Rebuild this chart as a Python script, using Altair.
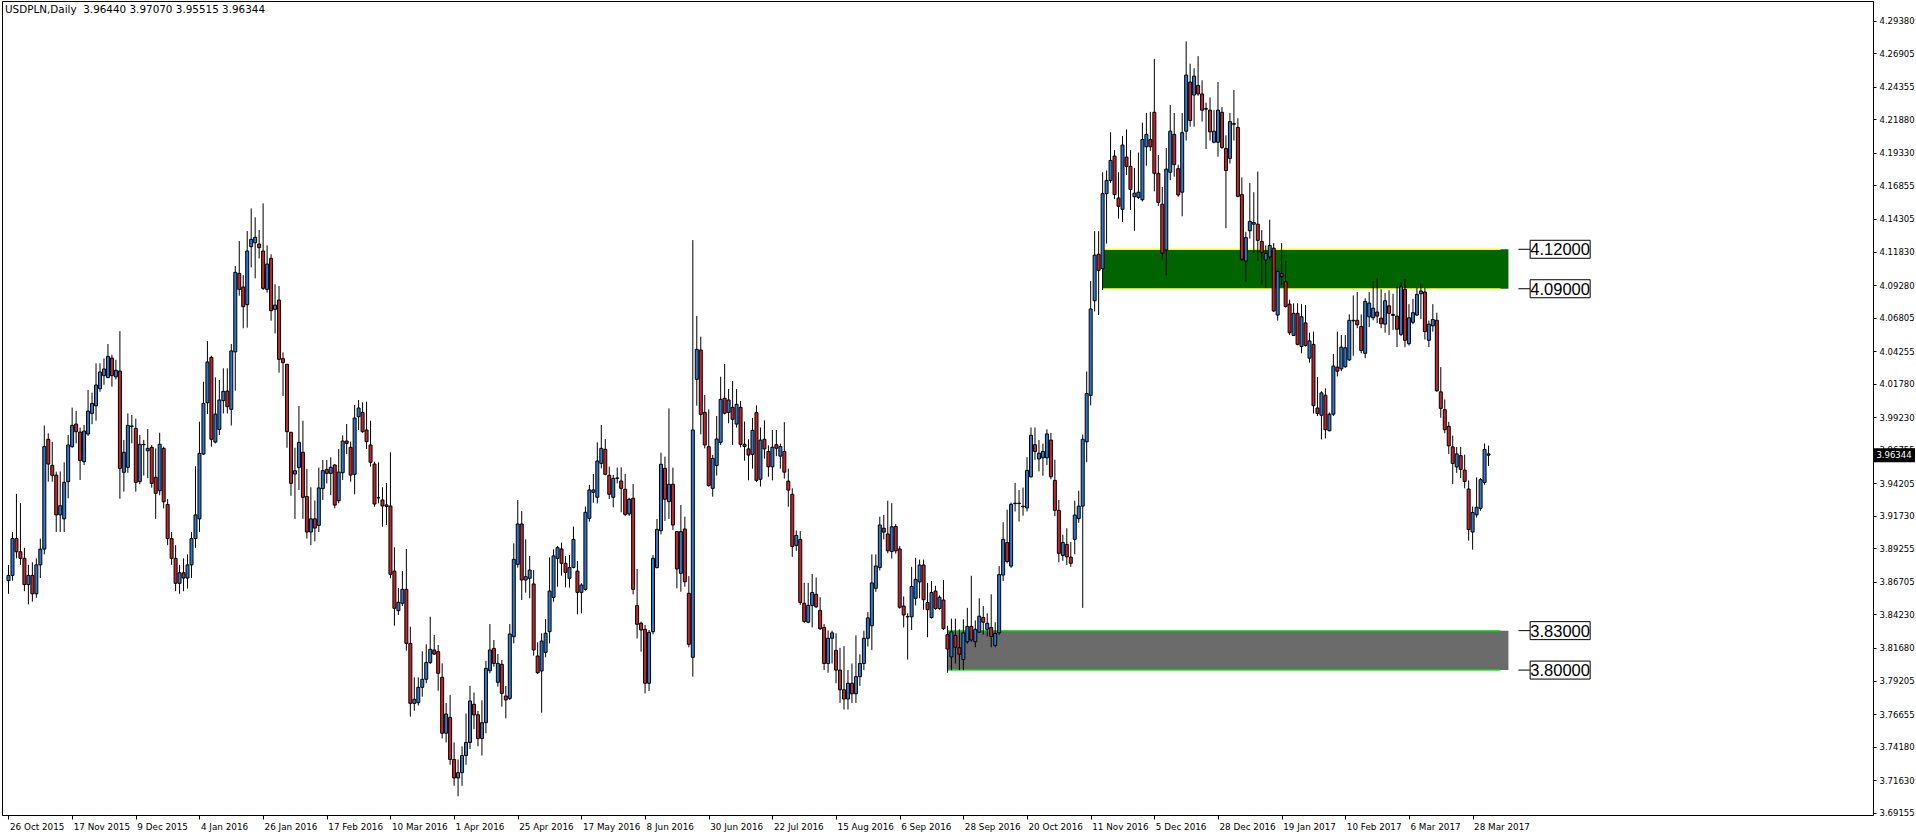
import altair as alt
import pandas as pd

# Daily USDPLN bars, one per trading day starting 26 Oct 2015 (bar 0)
bar_open = [
    3.868, 3.872, 3.900, 3.890, 3.885, 3.865, 3.872, 3.858, 3.880, 3.892,
    3.9755, 3.9557, 3.9483, 3.918, 3.915, 3.9433, 3.9699, 3.9871, 3.981, 3.9585,
    3.9795, 3.9952, 4.001, 4.014, 4.0239, 4.0224, 4.0373, 4.023, 4.0274, 3.9504,
    3.9542, 3.9854, 3.9838, 3.9433, 3.9714, 3.9668, 3.9694, 3.9466, 3.9364, 3.9686,
    3.926, 3.900, 3.885, 3.866, 3.874, 3.870, 3.880, 3.900, 3.915, 3.9643,
    4.0033, 4.0378, 3.9734, 3.983, 4.0049, 4.0122, 3.9983, 4.042, 4.1017, 4.0913,
    4.0779, 4.122, 4.125, 4.124, 4.1187, 4.0895, 4.1131, 4.0743, 4.0814, 4.0368,
    4.0325, 3.9808, 3.9491, 3.954, 3.9656, 3.932, 3.905, 3.915, 3.910, 3.938,
    3.9526, 3.9496, 3.956, 3.9288, 3.9501, 3.9742, 3.9694, 3.9489, 3.9927, 3.996,
    3.9826, 3.9712, 3.9567, 3.931, 3.9294, 3.9245, 3.9248, 3.8753, 3.8452, 3.8508,
    3.8614, 3.8203, 3.7747, 3.7752, 3.7869, 3.793, 3.8057, 3.8153, 3.814, 3.7945,
    3.752, 3.764, 3.732, 3.718, 3.722, 3.735, 3.745, 3.774, 3.766, 3.748,
    3.760, 3.7995, 3.8165, 3.7907, 3.8044, 3.7803, 3.7785, 3.8254, 3.8804, 3.9111,
    3.8685, 3.8698, 3.8655, 3.8107, 3.7993, 3.8135, 3.8292, 3.8553, 3.885, 3.8921,
    3.8812, 3.8698, 3.8781, 3.8753, 3.8591, 3.8614, 3.9154, 3.9352, 3.9314, 3.9572,
    3.9679, 3.9481, 3.9314, 3.9458, 3.9438, 3.9375, 3.9187, 3.9306, 3.849, 3.8356,
    3.831, 3.79, 3.8292, 3.8779, 3.906, 3.9534, 3.9281, 3.9413, 3.9053, 3.8736,
    3.9073, 3.8584, 3.8097, 4.0211, 4.0434, 3.996, 3.9699, 3.9382, 3.9555, 3.9732,
    4.0067, 3.996, 3.9998, 3.9871, 3.9998, 3.9717, 3.9682, 3.9641, 3.9959, 3.9451,
    3.9755, 3.9663, 3.9546, 3.9714, 3.9627, 3.9663, 3.9437, 3.9337, 3.8948, 3.8994,
    3.8508, 3.8364, 3.8492, 3.8576, 3.8454, 3.8324, 3.805, 3.8242, 3.815, 3.800,
    3.785, 3.778, 3.790, 3.782, 3.795, 3.805, 3.8242, 3.8337, 3.8622, 3.878,
    3.9079, 3.9035, 3.8902, 3.9092, 3.8921, 3.8487, 3.8405, 3.8405, 3.8546, 3.8671,
    3.8799, 3.8514, 3.84, 3.8601, 3.8468, 3.8533, 3.8269, 3.810, 3.8264, 3.817,
    3.808, 3.8215, 3.8332, 3.8215, 3.8288, 3.84, 3.831, 3.8324, 3.8188, 3.8283,
    3.8723, 3.897, 3.8791, 3.9266, 3.9269, 3.9242, 3.9233, 3.947, 3.9714, 3.9606,
    3.9614, 3.9614, 3.9749, 3.9443, 3.9215, 3.8872, 3.8956, 3.8859, 3.8994, 3.9152,
    3.9247, 3.9736, 4.0089, 4.0809, 4.1162, 4.1053, 4.1623, 4.1724, 4.1909, 4.159,
    4.1504, 4.1901, 4.1831, 4.16, 4.1595, 4.1577, 4.198, 4.2035, 4.2242, 4.1778,
    4.1543, 4.1195, 4.1786, 4.2074, 4.1813, 4.1634, 4.2098, 4.2472, 4.2373, 4.2446,
    4.2381, 4.2270, 4.2258, 4.2014, 4.2014, 4.2242, 4.1967, 4.1891, 4.2151, 4.2127,
    4.1616, 4.1111, 4.1341, 4.1391, 4.1391, 4.126, 4.1119, 4.1142, 4.1208, 4.07,
    4.1016, 4.0953, 4.0783, 4.0545, 4.0713, 4.0461, 4.064, 4.0372, 4.0477, 3.9993,
    3.9938, 4.009, 3.982, 3.9946, 4.0304, 4.0291, 4.0307, 4.0359, 4.0656, 4.066,
    4.0613, 4.0409, 4.0686, 4.0679, 4.0723, 4.0676, 4.0631, 4.077, 4.0705, 4.0692,
    4.0553, 4.0896, 4.0482, 4.0645, 4.07, 4.0862, 4.0875, 4.0508, 4.0618, 4.066,
    4.0116, 3.998, 3.9854, 3.9697, 3.9545, 3.9631, 3.9521, 3.9377, 3.905, 3.9181,
    3.923, 3.9427, 3.9644,
]
bar_high = [
    3.880, 3.905, 3.934, 3.927, 3.893, 3.880, 3.882, 3.885, 3.900, 3.986,
    3.980, 3.9734, 3.9509, 3.951, 3.958, 3.9788, 3.9996, 3.997, 3.9844, 3.9864,
    4.013, 4.011, 4.0333, 4.0333, 4.037, 4.048, 4.0398, 4.036, 4.0578, 3.975,
    3.9952, 3.994, 3.9912, 3.9788, 3.975, 3.9833, 3.9712, 3.9686, 3.9805, 3.9699,
    3.930, 3.905, 3.895, 3.880, 3.885, 3.888, 3.905, 3.955, 3.9889, 4.0193,
    4.0502, 4.039, 4.0226, 4.0206, 4.0295, 4.0295, 4.048, 4.1073, 4.1263, 4.1004,
    4.1339, 4.1511, 4.1443, 4.1347, 4.1549, 4.123, 4.1162, 4.0934, 4.0921, 4.0416,
    4.0330, 3.9812, 3.9691, 4.0008, 3.9896, 3.953, 3.939, 3.929, 3.954, 3.9598,
    3.9598, 3.9618, 3.9565, 3.9681, 3.9785, 3.9871, 3.9737, 4.0016, 4.0054, 4.0036,
    4.0041, 3.9896, 3.9585, 3.958, 3.939, 3.9423, 3.9656, 3.8934, 3.8624, 3.8753,
    3.8921, 3.833, 3.7945, 3.7945, 3.8143, 3.8196, 3.8406, 3.8267, 3.8191, 3.8051,
    3.775, 3.781, 3.745, 3.732, 3.742, 3.767, 3.788, 3.783, 3.769, 3.777,
    3.807, 3.835, 3.8229, 3.8122, 3.8077, 3.7879, 3.835, 3.8964, 3.9293, 3.921,
    3.8994, 3.8868, 3.8761, 3.8211, 3.828, 3.8388, 3.8857, 3.8918, 3.8944, 3.8969,
    3.8868, 3.8875, 3.9091, 3.883, 3.866, 3.9243, 3.9408, 3.9491, 3.9732, 3.9864,
    3.9757, 3.9547, 3.9484, 3.954, 3.9542, 3.9491, 3.9311, 3.9415, 3.8769, 3.8368,
    3.8343, 3.8305, 3.8875, 3.9149, 3.9653, 3.9623, 3.999, 3.954, 3.9056, 3.9255,
    3.9167, 3.8715, 4.127, 4.0693, 4.0536, 4.0092, 3.9983, 3.9636, 3.9932, 4.0231,
    4.0328, 4.0138, 4.0198, 4.0138, 4.0046, 3.989, 3.9755, 3.9918, 4.0013, 3.9845,
    3.9899, 3.9709, 3.9826, 3.9826, 3.9722, 3.9885, 3.9532, 3.9383, 3.9062, 3.9057,
    3.8663, 3.8663, 3.8731, 3.8704, 3.8554, 3.835, 3.8302, 3.8300, 3.828, 3.8169,
    3.8182, 3.800, 3.805, 3.8264, 3.812, 3.830, 3.8441, 3.888, 3.888, 3.9166,
    3.9179, 3.9288, 3.9269, 3.9111, 3.8943, 3.856, 3.8432, 3.8785, 3.8853, 3.884,
    3.884, 3.8663, 3.8677, 3.8641, 3.8568, 3.8685, 3.8337, 3.8391, 3.8391, 3.831,
    3.8386, 3.8473, 3.8717, 3.8378, 3.8546, 3.8487, 3.8432, 3.8576, 3.8364, 3.8791,
    3.9125, 3.922, 3.9274, 3.9424, 3.9369, 3.9388, 3.9619, 3.9845, 3.9845, 3.9749,
    3.9722, 3.9831, 3.9804, 3.96, 3.9293, 3.9029, 3.9078, 3.8975, 3.9288, 3.9364,
    3.979, 4.0271, 4.0958, 4.1338, 4.1338, 4.1786, 4.18, 4.209, 4.1954, 4.1786,
    4.2061, 4.2111, 4.1954, 4.1818, 4.1936, 4.2163, 4.2237, 4.2245, 4.2648, 4.1917,
    4.1674, 4.197, 4.2297, 4.2237, 4.1844, 4.2237, 4.2781, 4.2611, 4.2577, 4.2669,
    4.2485, 4.2315, 4.2355, 4.2258, 4.2472, 4.2281, 4.2066, 4.2237, 4.2412, 4.2197,
    4.1747, 4.1333, 4.1705, 4.1634, 4.1791, 4.1346, 4.1229, 4.1425, 4.1247, 4.104,
    4.1247, 4.1111, 4.0817, 4.0789, 4.0789, 4.0783, 4.0776, 4.0566, 4.0574, 4.0228,
    4.0121, 4.0142, 3.9959, 4.0404, 4.0574, 4.0548, 4.0548, 4.0705, 4.0849, 4.0875,
    4.0705, 4.0828, 4.0875, 4.0959, 4.098, 4.0896, 4.0867, 4.0888, 4.0862, 4.0914,
    4.0948, 4.0975, 4.0783, 4.0823, 4.0906, 4.094, 4.0906, 4.0658, 4.0783, 4.0718,
    4.0304, 4.0058, 3.9888, 3.9783, 3.9697, 3.9697, 3.9639, 3.9443, 3.9244, 3.9466,
    3.9461, 3.9723, 3.9707,
]
bar_low = [
    3.858, 3.868, 3.885, 3.880, 3.860, 3.850, 3.852, 3.855, 3.870, 3.888,
    3.9433, 3.9433, 3.905, 3.905, 3.905, 3.9306, 3.9691, 3.9724, 3.9446, 3.9559,
    3.978, 3.987, 3.9897, 4.0117, 4.017, 4.0224, 4.0155, 4.021, 3.9303, 3.9357,
    3.950, 3.9724, 3.9357, 3.9413, 3.948, 3.946, 3.9387, 3.915, 3.933, 3.923,
    3.895, 3.880, 3.860, 3.858, 3.860, 3.862, 3.870, 3.893, 3.905, 3.9636,
    3.9947, 3.9699, 3.9724, 3.9788, 3.9952, 3.9952, 3.986, 4.0125, 4.0847, 4.0599,
    4.0604, 4.1063, 4.0979, 4.1131, 4.089, 4.087, 4.0657, 4.056, 4.0262, 4.0084,
    3.9691, 3.9326, 3.915, 3.937, 3.915, 3.900, 3.895, 3.898, 3.905, 3.9294,
    3.942, 3.933, 3.923, 3.9268, 3.9446, 3.9643, 3.9433, 3.9337, 3.9826, 3.9805,
    3.9681, 3.9547, 3.9242, 3.9268, 3.909, 3.9103, 3.8698, 3.8338, 3.8419, 3.8487,
    3.8148, 3.7646, 3.7691, 3.773, 3.7798, 3.79, 3.8046, 3.8115, 3.7843, 3.748,
    3.745, 3.728, 3.712, 3.704, 3.712, 3.728, 3.740, 3.755, 3.742, 3.735,
    3.752, 3.7975, 3.8026, 3.7874, 3.7722, 3.7633, 3.7773, 3.8203, 3.8779, 3.8533,
    3.8589, 3.8546, 3.811, 3.797, 3.7676, 3.8097, 3.8203, 3.852, 3.8634, 3.8718,
    3.8629, 3.8627, 3.8774, 3.8424, 3.8432, 3.8604, 3.9129, 3.9273, 3.9268, 3.9534,
    3.9481, 3.9301, 3.9238, 3.942, 3.92, 3.9172, 3.9172, 3.8576, 3.8241, 3.814,
    3.7823, 3.7841, 3.8272, 3.8774, 3.9032, 3.9134, 3.9149, 3.9065, 3.8622, 3.8596,
    3.8634, 3.8173, 3.795, 4.0011, 3.9793, 3.9686, 3.9395, 3.9319, 3.9479, 3.9712,
    3.9945, 3.9877, 3.9712, 3.9844, 3.9694, 3.9592, 3.9443, 3.9532, 3.9429, 3.9396,
    3.9608, 3.947, 3.9443, 3.9627, 3.9532, 3.9456, 3.9242, 3.8861, 3.8907, 3.8495,
    3.8359, 3.8356, 3.8324, 3.8473, 3.8305, 3.800, 3.798, 3.805, 3.790, 3.775,
    3.770, 3.770, 3.775, 3.775, 3.788, 3.800, 3.818, 3.8152, 3.8595, 3.8758,
    3.8994, 3.8888, 3.8848, 3.8886, 3.8467, 3.8324, 3.808, 3.8305, 3.8492, 3.8546,
    3.8459, 3.825, 3.8391, 3.8459, 3.8459, 3.8305, 3.798, 3.800, 3.805, 3.800,
    3.800, 3.8201, 3.8215, 3.8174, 3.8283, 3.8269, 3.8256, 3.8174, 3.8174, 3.8269,
    3.8677, 3.8812, 3.8777, 3.9206, 3.913, 3.9174, 3.9206, 3.9464, 3.96, 3.9511,
    3.9478, 3.956, 3.9451, 3.9171, 3.882, 3.8831, 3.8799, 3.8785, 3.888, 3.912,
    3.8473, 3.9581, 4.0013, 4.0727, 4.07, 4.089, 4.1243, 4.1705, 4.1582, 4.1433,
    4.1407, 4.1765, 4.1498, 4.1341, 4.1582, 4.1564, 4.1836, 4.1949, 4.164, 4.153,
    4.1116, 4.1001, 4.1726, 4.1752, 4.16, 4.1451, 4.2027, 4.2132, 4.2132, 4.2368,
    4.2171, 4.1962, 4.2027, 4.2006, 4.1904, 4.1962, 4.136, 4.1852, 4.2027, 4.1595,
    4.1111, 4.0954, 4.1281, 4.1171, 4.1111, 4.0933, 4.0906, 4.1124, 4.0723, 4.0658,
    4.0927, 4.0757, 4.0548, 4.054, 4.0469, 4.0409, 4.0461, 4.0338, 3.9951, 3.9932,
    3.9754, 3.9762, 3.9815, 3.9932, 4.0233, 4.0273, 4.0299, 4.0351, 4.039, 4.06,
    4.0409, 4.0372, 4.0608, 4.066, 4.0639, 4.06, 4.0566, 4.0548, 4.0587, 4.0456,
    4.054, 4.0456, 4.0469, 4.0631, 4.0692, 4.0671, 4.0514, 4.0456, 4.0574, 4.0116,
    3.9919, 3.9801, 3.9644, 3.9414, 3.95, 3.9461, 3.9382, 3.8984, 3.8916, 3.916,
    3.9212, 3.9409, 3.95515,
]
bar_close = [
    3.872, 3.900, 3.890, 3.885, 3.865, 3.872, 3.858, 3.880, 3.892, 3.970,
    3.9567, 3.9481, 3.918, 3.925, 3.9428, 3.9712, 3.9861, 3.9813, 3.9593, 3.9818,
    3.997, 4.0028, 4.0168, 4.0267, 4.029, 4.0386, 4.0239, 4.028, 3.9534, 3.9656,
    3.9861, 3.9856, 3.9428, 3.9717, 3.9716, 3.9686, 3.942, 3.9344, 3.9717, 3.928,
    3.900, 3.885, 3.866, 3.874, 3.870, 3.880, 3.900, 3.918, 3.9648, 4.0028,
    4.0343, 3.9755, 3.9947, 4.0054, 4.012, 4.0003, 4.0427, 4.1025, 4.0895, 4.0764,
    4.1187, 4.1276, 4.1291, 4.1212, 4.0903, 4.1088, 4.0733, 4.0776, 4.0363, 4.0338,
    3.9813, 3.942, 3.9516, 3.9732, 3.9314, 3.905, 3.915, 3.908, 3.9385, 3.9517,
    3.9496, 3.9542, 3.9255, 3.9506, 3.9742, 3.9724, 3.9483, 3.9917, 3.9993, 3.9813,
    3.9737, 3.958, 3.9263, 3.9311, 3.9248, 3.9256, 3.8728, 3.847, 3.8515, 3.8614,
    3.8203, 3.7747, 3.7778, 3.7869, 3.793, 3.8057, 3.8158, 3.8122, 3.7975, 3.752,
    3.7666, 3.732, 3.718, 3.722, 3.735, 3.745, 3.7765, 3.7659, 3.748, 3.760,
    3.8013, 3.8153, 3.8051, 3.8051, 3.7823, 3.7773, 3.8274, 3.8842, 3.9111, 3.8685,
    3.871, 3.8761, 3.8153, 3.798, 3.8221, 3.828, 3.8601, 3.8868, 3.8931, 3.8812,
    3.8743, 3.8779, 3.8994, 3.8591, 3.8647, 3.92, 3.937, 3.9370, 3.959, 3.9686,
    3.9489, 3.9337, 3.9458, 3.9461, 3.9382, 3.9184, 3.9299, 3.8614, 3.8348, 3.8305,
    3.79, 3.8287, 3.885, 3.907, 3.9565, 3.9299, 3.9413, 3.9103, 3.8769, 3.9053,
    3.8672, 3.8196, 3.9826, 4.0439, 3.9945, 3.9712, 3.9403, 3.961, 3.9757, 4.0059,
    3.9953, 4.0054, 3.9907, 4.0021, 3.9717, 3.970, 3.9635, 3.9823, 3.9443, 3.9749,
    3.9682, 3.9546, 3.9695, 3.9687, 3.970, 3.9505, 3.9369, 3.894, 3.9024, 3.8514,
    3.837, 3.8492, 3.859, 3.8481, 3.8315, 3.805, 3.8242, 3.8283, 3.800, 3.785,
    3.778, 3.790, 3.782, 3.795, 3.805, 3.8242, 3.8397, 3.8663, 3.8791, 3.9103,
    3.9049, 3.8907, 3.909, 3.8907, 3.8478, 3.8419, 3.8407, 3.8636, 3.869, 3.8799,
    3.8535, 3.8459, 3.859, 3.8468, 3.8554, 3.8315, 3.816, 3.8291, 3.8174, 3.812,
    3.8283, 3.8332, 3.8229, 3.831, 3.841, 3.8364, 3.8356, 3.8256, 3.8278, 3.8726,
    3.8994, 3.8826, 3.9261, 3.9269, 3.9266, 3.9246, 3.9519, 3.9785, 3.9663, 3.9649,
    3.9663, 3.9796, 3.947, 3.9215, 3.8888, 3.897, 3.8861, 3.8812, 3.9179, 3.9247,
    3.9755, 4.0103, 4.0746, 4.1156, 4.104, 4.1623, 4.1724, 4.1876, 4.1616, 4.1527,
    4.1993, 4.1831, 4.1655, 4.1627, 4.1634, 4.2035, 4.2074, 4.198, 4.1778, 4.1556,
    4.1171, 4.181, 4.2098, 4.1844, 4.1613, 4.2087, 4.2525, 4.2179, 4.2517, 4.2381,
    4.2258, 4.2266, 4.2093, 4.2098, 4.2258, 4.1975, 4.1799, 4.2171, 4.2155, 4.1603,
    4.1124, 4.1289, 4.1412, 4.1404, 4.1268, 4.1176, 4.1168, 4.1229, 4.0731, 4.1032,
    4.0993, 4.0765, 4.0566, 4.0713, 4.0477, 4.0687, 4.0469, 4.0503, 4.0011, 3.9951,
    4.0108, 3.9828, 3.9946, 4.0312, 4.0273, 4.0456, 4.0451, 4.066, 4.0660, 4.0626,
    4.043, 4.0804, 4.0791, 4.0752, 4.0692, 4.0634, 4.0809, 4.0713, 4.0697, 4.0592,
    4.0914, 4.0508, 4.0679, 4.0718, 4.0857, 4.0883, 4.0574, 4.0631, 4.0666, 4.0124,
    3.999, 3.9828, 3.9705, 3.9571, 3.9644, 3.9526, 3.9435, 3.9068, 3.9199, 3.9238,
    3.9448, 3.9678, 3.96344,
]

# Date captions of the time axis, one every 16 bars
date_labels = [
    "26 Oct 2015", "17 Nov 2015", "9 Dec 2015", "4 Jan 2016", "26 Jan 2016",
    "17 Feb 2016", "10 Mar 2016", "1 Apr 2016", "25 Apr 2016", "17 May 2016",
    "8 Jun 2016", "30 Jun 2016", "22 Jul 2016", "15 Aug 2016", "6 Sep 2016",
    "28 Sep 2016", "20 Oct 2016", "11 Nov 2016", "5 Dec 2016", "28 Dec 2016",
    "19 Jan 2017", "10 Feb 2017", "6 Mar 2017", "28 Mar 2017",
]
# Price scale captions
price_ticks = [
    4.29380, 4.26905, 4.24355, 4.21880, 4.19330, 4.16855, 4.14305, 4.11830,
    4.09280, 4.06805, 4.04255, 4.01780, 3.99230, 3.96755, 3.94205, 3.91730,
    3.89255, 3.86705, 3.84230, 3.81680, 3.79205, 3.76655, 3.74180, 3.71630,
    3.69155,
]

# Supply (green) and demand (grey) zones
zone_top = [4.12, 3.83]
zone_bottom = [4.09, 3.80]
zone_first_bar = [275, 236]
zone_last_bar = [377, 377]
zone_edge_last_bar = [375, 375]
zone_fill = ["#006400", "#6B6B6B"]
zone_edge = ["#FFFF00", "#00FF00"]

level_prices = [4.12, 4.09, 3.83, 3.80]
level_tick_bars = [379.5, 382.5]
level_box_bar = 390.0

last_quote = {"open": 3.96440, "high": 3.97070, "low": 3.95515, "close": 3.96344}
symbol = "USDPLN,Daily"

BLUE = "#2F78CC"
RED = "#C3262B"
AXIS_FONT = "DejaVu Sans"

n = len(bar_close)
bars = pd.DataFrame({
    "bar": list(range(n)),
    "open": bar_open,
    "high": bar_high,
    "low": bar_low,
    "close": bar_close,
})
bars["dir"] = ["up" if c >= o else "down" for o, c in zip(bar_open, bar_close)]

zones = pd.DataFrame({
    "x1": zone_first_bar, "x2": zone_last_bar,
    "lo": zone_bottom, "hi": zone_top, "fill": zone_fill,
})
edges = pd.DataFrame({
    "x1": zone_first_bar * 2,
    "x2": zone_edge_last_bar * 2,
    "price": zone_top + zone_bottom,
    "color": zone_edge * 2,
})
levels = pd.DataFrame({
    "price": level_prices,
    "t1": [level_tick_bars[0]] * len(level_prices),
    "t2": [level_tick_bars[1]] * len(level_prices),
    "bx": [level_box_bar] * len(level_prices),
    "label": [f"{p:.5f}" for p in level_prices],
})

x_scale = alt.Scale(domain=[-0.375, 467.375], nice=False, zero=False)
y_scale = alt.Scale(domain=[3.6898, 4.30882], nice=False, zero=False)

label_array = "[" + ",".join(f"'{d}'" for d in date_labels) + "]"
x_axis = alt.Axis(
    values=[16 * k for k in range(len(date_labels))],
    labelExpr=label_array + "[round(datum.value / 16)]",
    title=None, grid=False, orient="bottom",
    labelAlign="left", labelBaseline="top", labelOffset=1, labelPadding=3,
    tickSize=4, tickColor="black", domainColor="black",
    labelFont=AXIS_FONT, labelFontSize=8.8, labelColor="black",
    labelOverlap=False, labelFlush=False,
)
y_axis = alt.Axis(
    values=price_ticks, format=".5f", title=None, grid=False, orient="right",
    tickSize=3, tickColor="black", domainColor="black", labelPadding=3,
    labelFont=AXIS_FONT, labelFontSize=8.5, labelColor="black",
    labelOverlap=False, labelFlush=False, labelBound=False,
)


def xq(field):
    return alt.X(field, scale=x_scale, axis=x_axis)


def yq(field):
    return alt.Y(field, scale=y_scale, axis=y_axis)


zone_rects = alt.Chart(zones).mark_rect().encode(
    x=xq("x1:Q"), x2="x2:Q",
    y=yq("lo:Q"), y2="hi:Q",
    color=alt.Color("fill:N", scale=None),
)
zone_edges = alt.Chart(edges).mark_rule(strokeWidth=1.2).encode(
    x=xq("x1:Q"), x2="x2:Q",
    y=yq("price:Q"),
    color=alt.Color("color:N", scale=None),
)
wicks = alt.Chart(bars).mark_rule(color="black", strokeWidth=1).encode(
    x=xq("bar:Q"),
    y=yq("low:Q"), y2="high:Q",
)
bodies = alt.Chart(bars).mark_bar(size=3, stroke="black", strokeWidth=1).encode(
    x=xq("bar:Q"),
    y=yq("open:Q"), y2="close:Q",
    color=alt.Color("dir:N", scale=alt.Scale(domain=["up", "down"], range=[BLUE, RED]), legend=None),
)
level_ticks = alt.Chart(levels).mark_rule(color="black", strokeWidth=1).encode(
    x=xq("t1:Q"), x2="t2:Q",
    y=yq("price:Q"),
)
box_shape = "M-1,-0.3L1,-0.3L1,0.3L-1,0.3Z"
level_boxes = alt.Chart(levels).mark_point(
    shape=box_shape, size=3600, filled=True, fill="white", stroke="black",
    strokeWidth=1, opacity=1,
).encode(
    x=xq("bx:Q"),
    y=yq("price:Q"),
)
level_text = alt.Chart(levels).mark_text(
    font="Liberation Sans", fontSize=16.5, color="black", align="center", baseline="middle", dy=1,
).encode(
    x=xq("bx:Q"),
    y=yq("price:Q"),
    text="label:N",
)

quote_df = pd.DataFrame({
    "price": [last_quote["close"]],
    "label": [f"{last_quote['close']:.5f}"],
    "header": [f"{symbol}\u00a0\u00a0{last_quote['open']:.5f} {last_quote['high']:.5f} "
               f"{last_quote['low']:.5f} {last_quote['close']:.5f}"],
})
quote_tag = alt.Chart(quote_df).mark_point(
    shape=box_shape, size=1600, filled=True,
    fill="black", stroke="black", opacity=1,
).encode(
    x=alt.value(1892),
    y=yq("price:Q"),
)
quote_text = alt.Chart(quote_df).mark_text(
    font=AXIS_FONT, fontSize=8.5, color="white", align="center", baseline="middle",
).encode(
    x=alt.value(1892),
    y=yq("price:Q"),
    text="label:N",
)
header = alt.Chart(quote_df).mark_text(
    font=AXIS_FONT, fontSize=10.4, color="black", align="left", baseline="middle",
).encode(
    x=alt.value(3),
    y=alt.value(9),
    text="header:N",
)

chart = alt.layer(
    zone_rects, zone_edges, wicks, bodies,
    level_ticks, level_boxes, level_text,
    quote_tag, quote_text, header,
).properties(
    width=1871, height=814,
    autosize=alt.AutoSizeParams(type="none"),
    padding={"left": 2, "top": 1, "right": 43, "bottom": 21},
    background="white",
).configure_view(
    stroke="black", strokeWidth=1,
)

chart.save("out.html", embed_options={"renderer": "svg", "actions": False})
